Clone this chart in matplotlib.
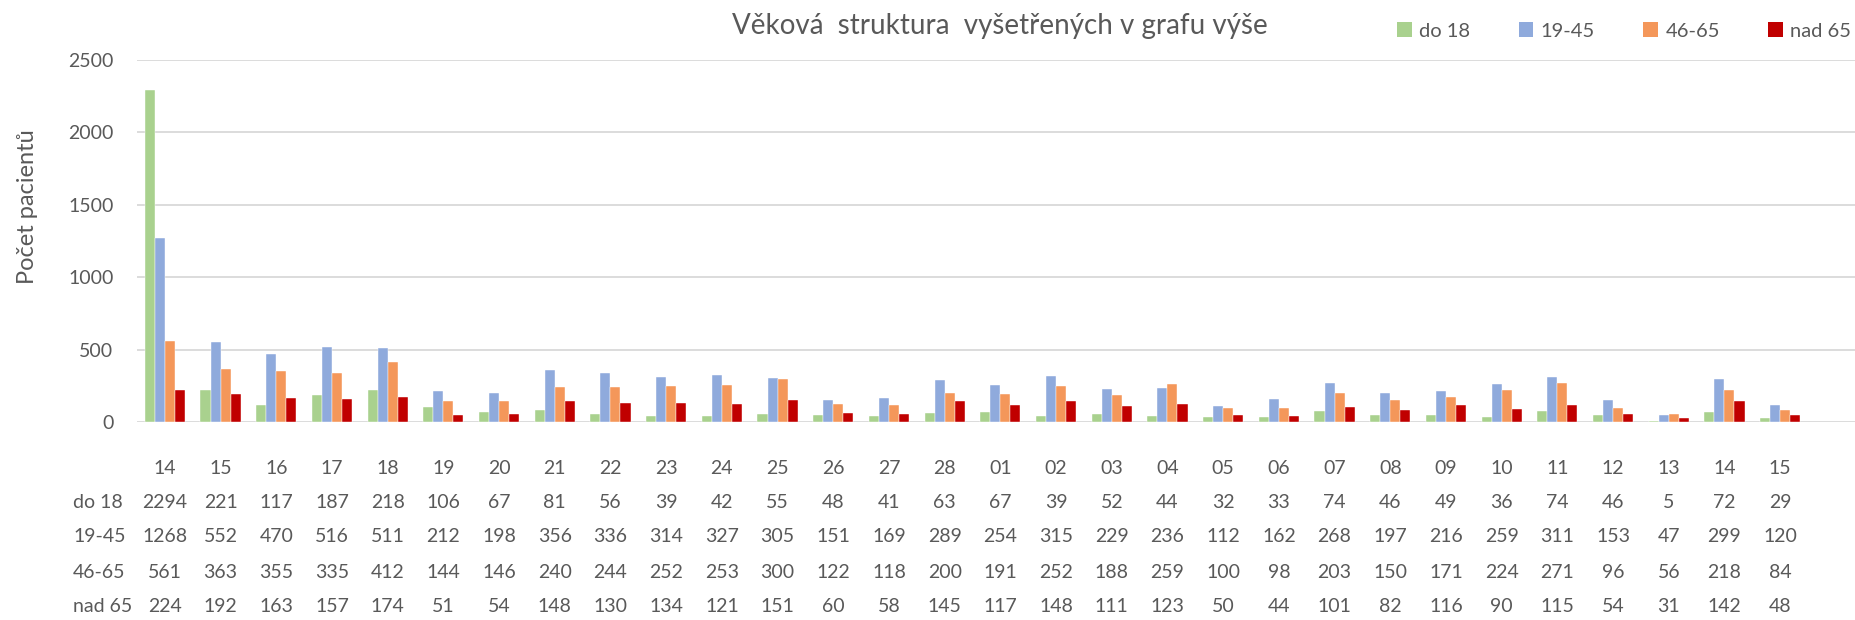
import numpy as np
import matplotlib
matplotlib.use("Agg")
import matplotlib.pyplot as plt
import matplotlib.transforms as mtransforms
from matplotlib.patches import Patch

plt.rcParams['font.family'] = ['Lato', 'DejaVu Sans']

# Data
days = ["14", "15", "16", "17", "18", "19", "20", "21", "22", "23", "24", "25", "26", "27", "28",
        "01", "02", "03", "04", "05", "06", "07", "08", "09", "10", "11", "12", "13", "14", "15"]
groups = ["do 18", "19-45", "46-65", "nad 65"]
do18 = [2294, 221, 117, 187, 218, 106, 67, 81, 56, 39, 42, 55, 48, 41, 63,
        67, 39, 52, 44, 32, 33, 74, 46, 49, 36, 74, 46, 5, 72, 29]
age19_45 = [1268, 552, 470, 516, 511, 212, 198, 356, 336, 314, 327, 305, 151, 169, 289,
            254, 315, 229, 236, 112, 162, 268, 197, 216, 259, 311, 153, 47, 299, 120]
age46_65 = [561, 363, 355, 335, 412, 144, 146, 240, 244, 252, 253, 300, 122, 118, 200,
            191, 252, 188, 259, 100, 98, 203, 150, 171, 224, 271, 96, 56, 218, 84]
nad65 = [224, 192, 163, 157, 174, 51, 54, 148, 130, 134, 121, 151, 60, 58, 145,
         117, 148, 111, 123, 50, 44, 101, 82, 116, 90, 115, 54, 31, 142, 48]
series = [do18, age19_45, age46_65, nad65]
colors = ["#A9D18E", "#8FAADC", "#F4975A", "#C00000"]
text_color = "#595959"

W, H = 1855, 620
fig = plt.figure(figsize=(W / 100, H / 100), dpi=100)
ax = fig.add_axes([137 / W, (H - 422) / H, 1 - 137 / W, (422 - 60) / H])

x = np.arange(len(days))
bw = 0.18
for i, (vals, c) in enumerate(zip(series, colors)):
    ax.bar(x + (i - 1.5) * bw, vals, width=bw, color=c, edgecolor="white", linewidth=0.3, zorder=3)

ax.set_ylim(0, 2500)
ax.set_xlim(-0.5, (W - 137) / 55.7 - 0.5)
ax.set_yticks(range(0, 2501, 500))
ax.yaxis.grid(True, color="#D9D9D9", linewidth=1.3, zorder=0)
ax.set_xticks([])
ax.tick_params(axis="y", length=0, pad=17, labelsize=14, labelcolor=text_color)
for s in ax.spines.values():
    s.set_visible(False)

fig.text(28 / W, 1 - 207 / H, "Počet pacientů", rotation=90, ha="center", va="center",
         fontsize=17, color=text_color)

# data table under the chart
trans = mtransforms.blended_transform_factory(ax.transData, fig.transFigure)
row_y = [469, 502, 537, 572, 607]
for xi, d in zip(x, days):
    ax.text(xi, 1 - row_y[0] / H, d, transform=trans, ha="center", va="center",
            fontsize=14, color=text_color, clip_on=False)
for r, (name, vals) in enumerate(zip(groups, series)):
    yy = 1 - row_y[r + 1] / H
    fig.text(73 / W, yy, name, ha="left", va="center", fontsize=14, color=text_color)
    for xi, v in zip(x, vals):
        ax.text(xi, yy, str(v), transform=trans, ha="center", va="center",
                fontsize=14, color=text_color, clip_on=False)

fig.text(1000 / W, 1 - 26 / H, "Věková  struktura  vyšetřených v grafu výše", ha="center", va="center",
         fontsize=20, color=text_color)

handles = [Patch(facecolor=c, edgecolor="none") for c in colors]
fig.legend(handles, groups, loc="center left", bbox_to_anchor=(1397 / W, 1 - 31 / H), ncol=4,
           frameon=False, fontsize=14.5, handlelength=0.72, handleheight=0.72,
           handletextpad=0.38, columnspacing=2.4, borderpad=0, borderaxespad=0,
           labelcolor=text_color)

fig.savefig("out.png", dpi=100)
